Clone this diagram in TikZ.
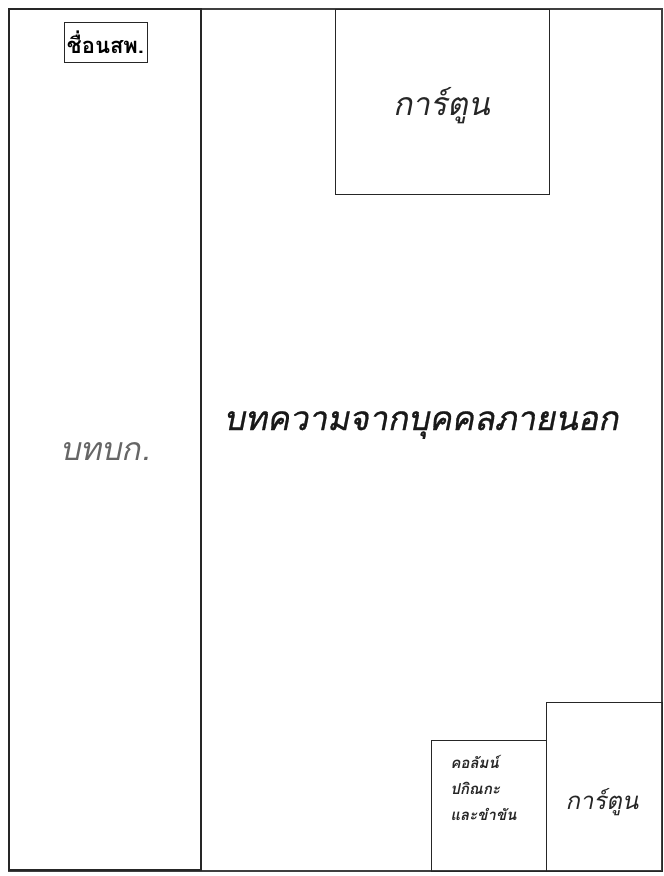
\documentclass[tikz,border=0pt]{standalone}
\usepackage{fontspec}
\newfontfamily\thaifont[Script=Thai]{Loma}
\newfontfamily\thaislant[Script=Thai,FakeSlant=0.2]{Loma}
\newfontfamily\thaiheavy[Script=Thai,FakeSlant=0.2,FakeBold=0.8]{Loma}
\usetikzlibrary{positioning}

\begin{document}
\begin{tikzpicture}[
    x=1pt, y=-1pt,
    page/.style={rectangle, draw=black!75, line width=1.2pt, inner sep=0pt},
    column/.style={rectangle, draw=black!85, line width=2.5pt, inner sep=0pt},
    panel/.style={rectangle, draw=black!85, line width=1pt, inner sep=0pt},
    tag/.style={rectangle, draw=black!85, line width=0.8pt, inner sep=0pt, font=\thaifont\bfseries\fontsize{22}{24}\selectfont},
    bigtext/.style={font=\thaiheavy\fontsize{33.5}{38}\selectfont, text=black!90},
    midtext/.style={font=\thaislant\fontsize{32}{36}\selectfont, text=black!85},
    smalltext/.style={font=\thaislant\bfseries\fontsize{15}{26}\selectfont, text=black!85, align=left}
]
    \useasboundingbox (0,0) rectangle (664,876);
    \node[page, minimum width=653pt, minimum height=862pt] (sheet) at (335.5,440) {};

    \node[column, minimum width=192pt, minimum height=861pt] (editorial) at (105,439.5) {};
    \node[tag, minimum width=83pt, minimum height=40pt] (masthead) at (105.5,42) {ชื่อนสพ.};
    \node[midtext, text=black!60] (editlabel) at (105,452) {บทบก.};

    \node[panel, minimum width=214pt, minimum height=185pt] (cartoontop) at (442,101.5) {};
    \node[midtext] (cartoonhead) at (442,106) {การ์ตูน};

    \node[bigtext] (outside) at (421,425) {บทความจากบุคคลภายนอก};

    \node[panel, minimum width=115pt, minimum height=131pt] (misc) at (488.5,805.5) {};
    \node[smalltext, anchor=north west] (misclabel) at (447,752) {คอลัมน์\\ปกิณกะ\\และขำขัน};

    \node[panel, minimum width=116pt, minimum height=169pt] (cartoonbottom) at (604,786.5) {};
    \node[font=\thaislant\fontsize{24}{28}\selectfont, text=black!85] (cartoonlabel) at (602,802) {การ์ตูน};
\end{tikzpicture}
\end{document}
